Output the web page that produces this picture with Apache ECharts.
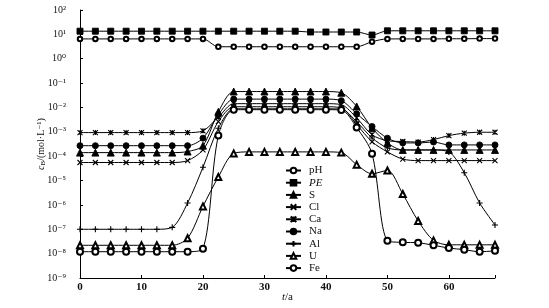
<!DOCTYPE html>
<html><head><meta charset="utf-8">
<script src="https://cdn.jsdelivr.net/npm/echarts@6/dist/echarts.min.js"></script>
<style>html,body{margin:0;padding:0;background:#fff}#c{width:549px;height:308px}</style>
</head><body><div id="c"></div>
<script>
const t = [0,2.5,5,7.5,10,12.5,15,17.5,20,22.5,25,27.5,30,32.5,35,37.5,40,42.5,45,47.5,50,52.5,55,57.5,60,62.5,65,67.5];
const pH = [6.5,6.5,6.5,6.5,6.5,6.5,6.5,6.5,6.5,3.1,3.1,3.1,3.1,3.1,3.1,3.1,3.1,3.1,3.1,5.0,6.5,6.5,6.5,6.5,6.6,6.6,6.7,6.7];
const PE = [13.5,13.5,13.5,13.5,13.5,13.5,13.5,13.5,13.5,13.5,13.5,13.5,13.5,13.5,13.5,12.5,12.5,12.5,12.5,9.4,14,14,14,14,14,14,14,14];
const S  = [1.4e-4,1.4e-4,1.4e-4,1.4e-4,1.4e-4,1.4e-4,1.4e-4,1.55e-4,2.7e-4,6.6e-3,0.045,0.045,0.045,0.045,0.045,0.045,0.045,0.04,0.011,1.45e-3,3.5e-4,1.8e-4,1.8e-4,1.8e-4,1.8e-4,1.8e-4,1.8e-4,1.8e-4];
const Cl = [5.5e-5,5.5e-5,5.5e-5,5.5e-5,5.5e-5,5.5e-5,5.5e-5,6.6e-5,1.8e-4,2.6e-3,0.0107,0.0107,0.0107,0.0107,0.0107,0.0107,0.0107,0.0096,2e-3,3.9e-4,1.5e-4,7.6e-5,6.6e-5,6.6e-5,6.6e-5,6.6e-5,6.6e-5,6.6e-5];
const Ca = [9.3e-4,9.3e-4,9.3e-4,9.3e-4,9.3e-4,9.3e-4,9.3e-4,9.3e-4,1.1e-3,4e-3,0.0143,0.0143,0.0143,0.0143,0.0143,0.0143,0.0143,0.013,3.7e-3,7.6e-4,4.3e-4,4e-4,3.8e-4,4.8e-4,7e-4,8.8e-4,9.6e-4,9.6e-4];
const Na = [2.7e-4,2.7e-4,2.7e-4,2.7e-4,2.7e-4,2.7e-4,2.7e-4,2.7e-4,5.5e-4,5e-3,0.022,0.022,0.022,0.022,0.022,0.022,0.022,0.019,5.5e-3,1.65e-3,5.5e-4,3.5e-4,3.5e-4,3.8e-4,2.9e-4,2.9e-4,2.9e-4,2.9e-4];
const Al = [1e-7,1e-7,1e-7,1e-7,1e-7,1e-7,1.2e-7,1.2e-6,3.5e-5,1.4e-3,0.0088,0.0088,0.0088,0.0088,0.0088,0.0088,0.0088,0.0085,2.6e-3,5.6e-4,2.2e-4,1.8e-4,1.8e-4,1.8e-4,1.5e-4,2.1e-5,1.2e-6,1.5e-7];
const U  = [2.2e-8,2.2e-8,2.2e-8,2.2e-8,2.2e-8,2.2e-8,2.2e-8,4.3e-8,8.7e-7,1.4e-5,1.3e-4,1.5e-4,1.5e-4,1.5e-4,1.5e-4,1.5e-4,1.5e-4,1.4e-4,4.5e-5,1.9e-5,2.6e-5,2.8e-6,2.2e-7,3.5e-8,2.3e-8,2.3e-8,2.3e-8,2.3e-8];
const Fe = [1.2e-8,1.2e-8,1.2e-8,1.2e-8,1.2e-8,1.2e-8,1.2e-8,1.2e-8,1.6e-8,7e-4,0.0081,0.0081,0.0081,0.0081,0.0081,0.0081,0.0081,0.0078,1.5e-3,1.26e-4,3.4e-8,2.9e-8,2.8e-8,2.2e-8,1.7e-8,1.45e-8,1.2e-8,1.3e-8];
const xTicks = [0,10,20,30,40,50,60];
const yExps = [-9,-8,-7,-6,-5,-4,-3,-2,-1,0,1,2];

const SUP = {'-':'⁻','0':'⁰','1':'¹','2':'²','3':'³','4':'⁴','5':'⁵','6':'⁶','7':'⁷','8':'⁸','9':'⁹'};
const sup = s => String(s).split('').map(c => SUP[c]).join('');
const FONT = '"Liberation Serif","DejaVu Serif",serif';
const pair = arr => t.map((x,i)=>[x,arr[i]]);

const X_PATH = 'path://M0,0L10,10M10,0L0,10';
const AST_PATH = 'path://M0,0L10,10M10,0L0,10M5,0L5,10';
const PLUS_PATH = 'path://M5,0L5,10M0,5L10,5';

const defs = [
  {name:'pH', data:pH, symbol:'emptyCircle', size:4.5},
  {name:'PE', data:PE, symbol:'rect', size:6},
  {name:'S', data:S, symbol:'triangle', size:7},
  {name:'Cl', data:Cl, symbol:X_PATH, size:5, stroke:true},
  {name:'Ca', data:Ca, symbol:AST_PATH, size:5, stroke:true},
  {name:'Na', data:Na, symbol:'circle', size:6},
  {name:'Al', data:Al, symbol:PLUS_PATH, size:6, stroke:true},
  {name:'U', data:U, symbol:'emptyTriangle', size:6},
  {name:'Fe', data:Fe, symbol:'emptyCircle', size:6}
];

const series = defs.map(d => ({
  name: d.name, type:'line', data: pair(d.data),
  symbol: d.symbol, symbolSize: d.size, smooth: 0.3,
  lineStyle:{color:'#000', width:1},
  itemStyle: d.stroke ? {color:'#000', borderColor:'#000', borderWidth:1.1} : {color:'#000', borderColor:'#000', borderWidth:0.9},
  emphasis:{disabled:true}, animation:false
}));

const chart = echarts.init(document.getElementById('c'));
chart.setOption({
  animation:false,
  backgroundColor:'#fff',
  grid:{left:80, right:54, top:10, bottom:30, containLabel:false, outerBoundsMode:'none'},
  legend:{
    orient:'vertical', left:280, top:160, itemWidth:15, itemHeight:7, itemGap:1.2,
    data: defs.map(d=>d.name),
    formatter: n => n==='PE' ? '{i|PE}' : n,
    textStyle:{fontFamily:FONT, fontSize:11, color:'#111', padding:[0,0,0,3], lineHeight:11,
      rich:{i:{fontFamily:FONT, fontSize:11, fontStyle:'italic', color:'#111', lineHeight:11}}}
  },
  xAxis:{
    type:'value', min:0, max:67.5, interval:10,
    name:'{i|t}/a', nameLocation:'middle', nameGap:14, nameMoveOverlap:false,
    nameTextStyle:{fontFamily:FONT, fontSize:11, color:'#111', rich:{i:{fontFamily:FONT, fontSize:11, fontStyle:'italic', color:'#111'}}},
    axisLine:{lineStyle:{color:'#000', width:1}},
    axisTick:{inside:true, length:3, lineStyle:{color:'#000'}},
    axisLabel:{fontFamily:FONT, fontSize:11, color:'#111', fontWeight:'bold', margin:4,
      formatter: v => xTicks.includes(v) ? String(v) : ''},
    splitLine:{show:false}
  },
  yAxis:{
    type:'log', logBase:10, min:1e-9, max:100, interval:1,
    name:'{i|c}{s|B}/(mol·L⁻¹)', nameLocation:'middle', nameGap:33, nameRotate:90, nameMoveOverlap:false,
    nameTextStyle:{fontFamily:FONT, fontSize:10, color:'#111',
      rich:{i:{fontFamily:FONT, fontSize:10, fontStyle:'italic', color:'#111'}, s:{fontFamily:FONT, fontSize:7, color:'#111', padding:[4,0,0,0]}}},
    axisLine:{show:true, lineStyle:{color:'#000', width:1}},
    axisTick:{show:true, inside:true, length:3, lineStyle:{color:'#000'}},
    axisLabel:{fontFamily:FONT, fontSize:10, color:'#111', margin:14,
      formatter: v => { const e = Math.round(Math.log10(v)); return yExps.includes(e) ? '10' + sup(e) : ''; }},
    splitLine:{show:false}
  },
  series
});
</script></body></html>
